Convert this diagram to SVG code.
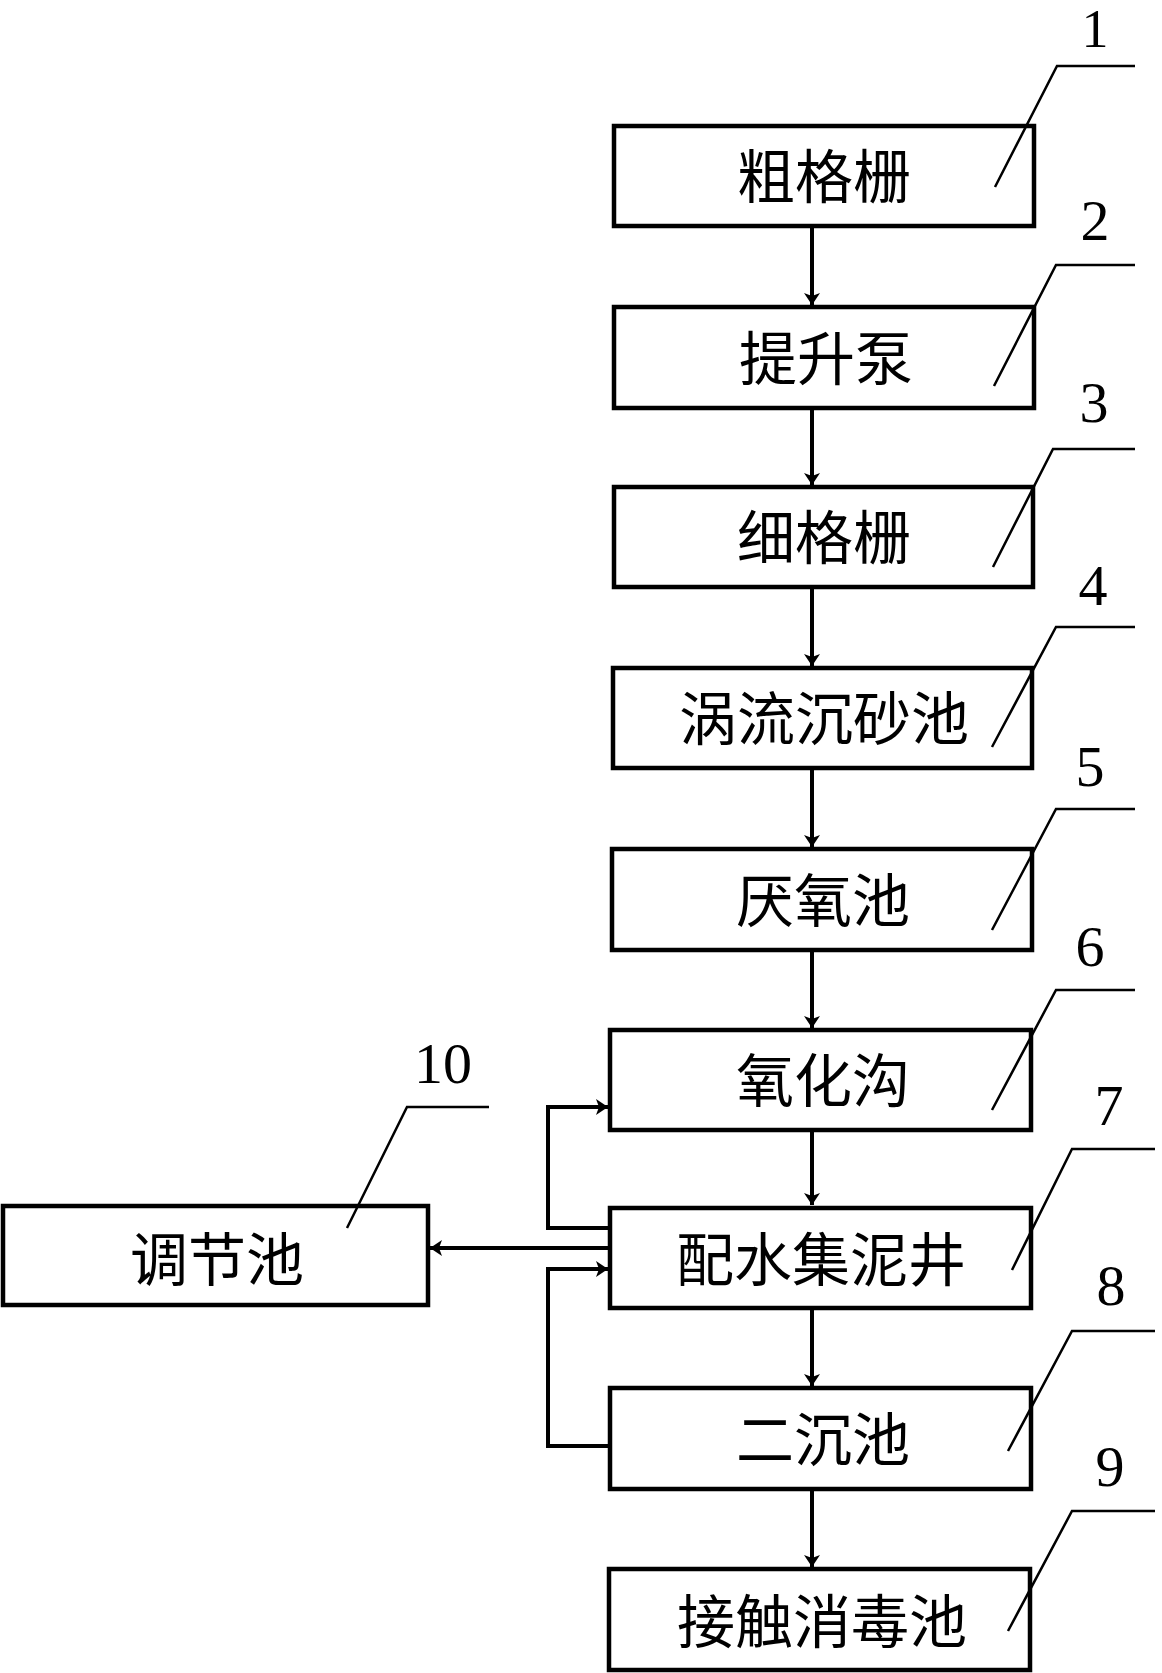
<svg xmlns="http://www.w3.org/2000/svg" width="1162" height="1673" viewBox="0 0 1162 1673">
<defs>
<style>
.box{fill:#fff;stroke:#000;stroke-width:4.5}
.lbl{font-family:"Noto Sans CJK SC","Noto Sans CJK JP",sans-serif;font-size:58px;fill:#000;text-anchor:middle}
.num{font-family:"Liberation Serif",serif;font-size:58px;fill:#000;text-anchor:middle}
.con{fill:none;stroke:#000;stroke-width:4}
.lead{fill:none;stroke:#000;stroke-width:2.5}
</style>
<marker id="ah" viewBox="0 0 12 16" refX="12" refY="8" markerWidth="12" markerHeight="16" markerUnits="userSpaceOnUse" orient="auto">
<path d="M0,0 L12,8 L0,16 L3,8 Z" fill="#000"/>
</marker>
</defs>
<rect width="1162" height="1673" fill="#fff"/>
<g id="connectors">
<line class="con" x1="812" y1="226" x2="812" y2="305" marker-end="url(#ah)"/>
<line class="con" x1="812" y1="408" x2="812" y2="485" marker-end="url(#ah)"/>
<line class="con" x1="812" y1="587" x2="812" y2="666" marker-end="url(#ah)"/>
<line class="con" x1="812" y1="768" x2="812" y2="847" marker-end="url(#ah)"/>
<line class="con" x1="812" y1="950" x2="812" y2="1028" marker-end="url(#ah)"/>
<line class="con" x1="812" y1="1130" x2="812" y2="1205" marker-end="url(#ah)"/>
<line class="con" x1="812" y1="1308" x2="812" y2="1386" marker-end="url(#ah)"/>
<line class="con" x1="812" y1="1489" x2="812" y2="1567" marker-end="url(#ah)"/>
<line class="con" x1="610" y1="1248" x2="430" y2="1248" marker-end="url(#ah)"/>
<polyline class="con" points="610,1228 548,1228 548,1107 608,1107" marker-end="url(#ah)"/>
<polyline class="con" points="610,1446 548,1446 548,1269 608,1269" marker-end="url(#ah)"/>
</g>
<g id="node1"><rect class="box" x="614" y="126" width="420" height="100"/><text class="lbl" x="824" y="198">粗格栅</text><polyline class="lead" points="995,187 1057,66 1135,66"/><text class="num" x="1095" y="47" style="font-size:54px">1</text></g>
<g id="node2"><rect class="box" x="614" y="307" width="420" height="101"/><text class="lbl" x="826" y="380">提升泵</text><polyline class="lead" points="994,386 1056,265 1135,265"/><text class="num" x="1095" y="240">2</text></g>
<g id="node3"><rect class="box" x="614" y="487" width="419" height="100"/><text class="lbl" x="824" y="559">细格栅</text><polyline class="lead" points="993,567 1053,449 1135,449"/><text class="num" x="1094" y="422">3</text></g>
<g id="node4"><rect class="box" x="613" y="668" width="419" height="100"/><text class="lbl" x="824" y="740">涡流沉砂池</text><polyline class="lead" points="992,747 1056,627 1135,627"/><text class="num" x="1093" y="605">4</text></g>
<g id="node5"><rect class="box" x="612" y="849" width="420" height="101"/><text class="lbl" x="823" y="922">厌氧池</text><polyline class="lead" points="992,930 1056,809 1135,809"/><text class="num" x="1090" y="786">5</text></g>
<g id="node6"><rect class="box" x="610" y="1030" width="421" height="100"/><text class="lbl" x="823" y="1102">氧化沟</text><polyline class="lead" points="992,1110 1056,990 1135,990"/><text class="num" x="1090" y="966">6</text></g>
<g id="node7"><rect class="box" x="610" y="1208" width="421" height="100"/><text class="lbl" x="821" y="1281">配水集泥井</text><polyline class="lead" points="1012,1270 1072,1149 1155,1149"/><text class="num" x="1109" y="1125">7</text></g>
<g id="node8"><rect class="box" x="610" y="1388" width="421" height="101"/><text class="lbl" x="823" y="1461">二沉池</text><polyline class="lead" points="1008,1451 1072,1331 1155,1331"/><text class="num" x="1111" y="1305">8</text></g>
<g id="node9"><rect class="box" x="609" y="1569" width="421" height="101"/><text class="lbl" x="822" y="1643">接触消毒池</text><polyline class="lead" points="1008,1631 1072,1511 1155,1511"/><text class="num" x="1110" y="1486">9</text></g>
<g id="node10"><rect class="box" x="3" y="1206" width="425" height="99"/><text class="lbl" x="217" y="1281">调节池</text><polyline class="lead" points="347,1228 407,1107 489,1107"/><text class="num" x="443" y="1083">10</text></g>
</svg>
